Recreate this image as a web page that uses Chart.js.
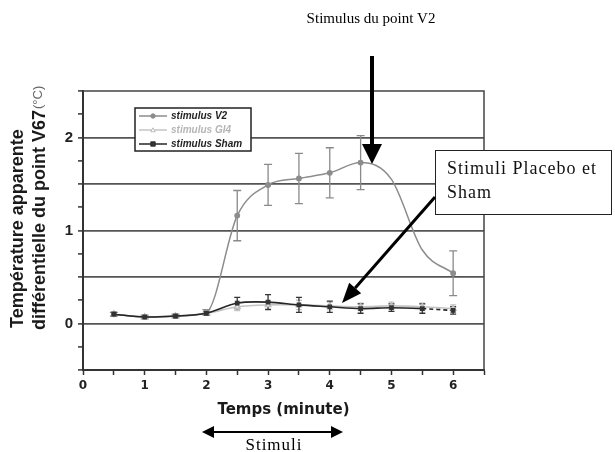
<!DOCTYPE html>
<html lang="fr">
<head>
<meta charset="utf-8">
<title>Température apparente différentielle du point V67</title>
<script src="https://cdn.jsdelivr.net/npm/chart.js@4.4.1/dist/chart.umd.min.js"></script>
<style>
  html, body { margin: 0; padding: 0; background: #fff; }
  #chart { display: block; }
</style>
</head>
<body>
<canvas id="chart" width="615" height="452"></canvas>
<script>
// temps (minute)
const timeMinutes = [0.5, 1, 1.5, 2, 2.5, 3, 3.5, 4, 4.5, 5, 5.5, 6];

// stimulus V2 -- null error = curve point only, no marker
const v2Values = [0.10, 0.07, 0.08, 0.12, 1.16, 1.49, 1.56, 1.62, 1.73, 1.55, 0.79, 0.54];
const v2Errors = [0.02, 0.02, 0.02, 0.03, 0.27, 0.22, 0.27, 0.27, 0.29, null, null, 0.24];

// stimulus GI4
const gi4Values = [0.10, 0.07, 0.08, 0.11, 0.18, 0.20, 0.20, 0.19, 0.18, 0.19, 0.18, 0.16];
const gi4Errors = [0.02, 0.02, 0.02, 0.02, 0.04, 0.04, 0.05, 0.04, 0.04, 0.04, 0.04, 0.04];

// stimulus Sham
const shamValues = [0.10, 0.07, 0.08, 0.11, 0.22, 0.23, 0.20, 0.18, 0.16, 0.17, 0.16, 0.14];
const shamErrors = [0.02, 0.01, 0.01, 0.02, 0.06, 0.08, 0.08, 0.06, 0.05, 0.04, 0.05, 0.04];

const seriesNames = ['stimulus V2', 'stimulus GI4', 'stimulus Sham'];
const xTickLabels = [0, 1, 2, 3, 4, 5, 6];
const yTickLabels = [0, 1, 2];

const toPoints = (vals) => vals.map((v, i) => ({ x: timeMinutes[i], y: v }));

const errorBars = {
  id: 'errorBars',
  beforeDatasetsDraw(chart) {
    const { ctx, scales: { x, y } } = chart;
    chart.data.datasets.forEach((ds) => {
      if (!ds.errors) return;
      ctx.save();
      ctx.strokeStyle = ds.errorColor;
      ctx.lineWidth = 1.3;
      ds.data.forEach((p, j) => {
        const e = ds.errors[j];
        if (e == null) return;
        const px = x.getPixelForValue(p.x);
        const top = y.getPixelForValue(p.y + e);
        const bot = y.getPixelForValue(p.y - e);
        const cap = ds.errorCap;
        ctx.beginPath();
        ctx.moveTo(px, top); ctx.lineTo(px, bot);
        ctx.moveTo(px - cap, top); ctx.lineTo(px + cap, top);
        ctx.moveTo(px - cap, bot); ctx.lineTo(px + cap, bot);
        ctx.stroke();
      });
      ctx.restore();
    });
  }
};

function arrow(ctx, x1, y1, x2, y2, len, half, width) {
  const a = Math.atan2(y2 - y1, x2 - x1);
  const bx = x2 - len * Math.cos(a), by = y2 - len * Math.sin(a);
  ctx.lineWidth = width;
  ctx.beginPath();
  ctx.moveTo(x1, y1);
  ctx.lineTo(bx, by);
  ctx.stroke();
  ctx.beginPath();
  ctx.moveTo(x2, y2);
  ctx.lineTo(bx + half * Math.sin(a), by - half * Math.cos(a));
  ctx.lineTo(bx - half * Math.sin(a), by + half * Math.cos(a));
  ctx.closePath();
  ctx.fill();
}

function marker(ctx, style, x, y, r, fill, stroke) {
  ctx.fillStyle = fill;
  ctx.strokeStyle = stroke;
  ctx.lineWidth = 1;
  ctx.beginPath();
  if (style === 'rect') ctx.rect(x - r, y - r, 2 * r, 2 * r);
  else if (style === 'triangle') { ctx.moveTo(x, y - r); ctx.lineTo(x + r, y + r * 0.8); ctx.lineTo(x - r, y + r * 0.8); ctx.closePath(); }
  else ctx.arc(x, y, r, 0, Math.PI * 2);
  ctx.fill();
  ctx.stroke();
}

const annotations = {
  id: 'annotations',
  afterDraw(chart) {
    const { ctx, chartArea: a } = chart;
    ctx.save();

    // top and right frame
    ctx.strokeStyle = '#444';
    ctx.lineWidth = 1.5;
    ctx.beginPath();
    ctx.moveTo(a.left, a.top); ctx.lineTo(a.right, a.top); ctx.lineTo(a.right, a.bottom);
    ctx.stroke();

    // legend
    ctx.fillStyle = '#fff';
    ctx.fillRect(135, 108, 116, 43);
    ctx.strokeStyle = '#222';
    ctx.lineWidth = 1.5;
    ctx.strokeRect(135, 108, 116, 43);
    ctx.font = 'italic bold 10px "Liberation Sans", Arial, sans-serif';
    ctx.textBaseline = 'middle';
    ctx.textAlign = 'left';
    [0, 1, 2].forEach((i) => {
      const ds = chart.data.datasets[i];
      const ly = 116 + i * 14;
      ctx.strokeStyle = ds.borderColor;
      ctx.lineWidth = 1.5;
      ctx.beginPath(); ctx.moveTo(139, ly); ctx.lineTo(167, ly); ctx.stroke();
      marker(ctx, ds.pointStyle, 153, ly, 2.2, ds.pointBackgroundColor, ds.pointBorderColor);
      ctx.fillStyle = i === 1 ? '#b5b5b5' : '#222';
      ctx.fillText(seriesNames[i], 171, ly + 0.5);
    });

    // y axis title
    ctx.fillStyle = '#1a1a1a';
    ctx.textBaseline = 'middle';
    ctx.textAlign = 'left';
    ctx.save();
    ctx.translate(18, 328);
    ctx.rotate(-Math.PI / 2);
    ctx.font = 'bold 18px "Liberation Sans", Arial, sans-serif';
    ctx.fillText('Température apparente', 0, 0);
    ctx.restore();
    ctx.save();
    ctx.translate(40, 330);
    ctx.rotate(-Math.PI / 2);
    ctx.font = 'bold 18px "Liberation Sans", Arial, sans-serif';
    const part = 'différentielle du point V67';
    ctx.fillText(part, 0, 0);
    const w = ctx.measureText(part).width;
    ctx.font = '13px "Liberation Sans", Arial, sans-serif';
    ctx.fillStyle = '#666';
    ctx.fillText('(°C)', w + 1, -2);
    ctx.restore();

    // x axis title
    ctx.fillStyle = '#1a1a1a';
    ctx.textAlign = 'center';
    ctx.font = 'bold 15px "DejaVu Sans", sans-serif';
    ctx.fillText('Temps (minute)', (a.left + a.right) / 2, 410);

    // Stimuli span arrow
    ctx.fillStyle = '#000';
    ctx.strokeStyle = '#000';
    arrow(ctx, 272, 432, 202, 432, 12, 6, 2);
    arrow(ctx, 272, 432, 343, 432, 12, 6, 2);
    ctx.font = '17px "Liberation Serif", "Times New Roman", serif';
    ctx.letterSpacing = '1px';
    ctx.textBaseline = 'alphabetic';
    ctx.fillText('Stimuli', 274, 450);

    // V2 annotation
    ctx.font = '15px "Liberation Serif", "Times New Roman", serif';
    ctx.letterSpacing = '0px';
    ctx.fillText('Stimulus du point V2', 371, 23);
    arrow(ctx, 372, 56, 372, 164, 20, 10, 4);

    // Placebo / Sham box
    ctx.fillStyle = '#fff';
    ctx.fillRect(435, 150, 177, 65);
    ctx.strokeStyle = '#222';
    ctx.lineWidth = 1;
    ctx.strokeRect(435.5, 150.5, 176, 64);
    ctx.fillStyle = '#111';
    ctx.textAlign = 'left';
    ctx.font = '18px "Liberation Serif", "Times New Roman", serif';
    ctx.letterSpacing = '1px';
    ctx.fillText('Stimuli Placebo et', 447, 174);
    ctx.fillText('Sham', 447, 198);
    ctx.letterSpacing = '0px';
    ctx.fillStyle = '#000';
    ctx.strokeStyle = '#000';
    arrow(ctx, 435, 197, 342, 303, 20, 8, 3);

    ctx.restore();
  }
};

new Chart(document.getElementById('chart'), {
  type: 'line',
  data: {
    datasets: [
      {
        label: seriesNames[0],
        data: toPoints(v2Values),
        errors: v2Errors,
        errorColor: '#8a8a8a',
        errorCap: 4,
        borderColor: '#8c8c8c',
        borderWidth: 1.5,
        cubicInterpolationMode: 'monotone',
        pointStyle: 'circle',
        pointRadius: (ctx) => v2Errors[ctx.dataIndex] == null ? 0 : 2.2,
        pointBackgroundColor: '#8c8c8c',
        pointBorderColor: '#8c8c8c',
        order: 1
      },
      {
        label: seriesNames[1],
        data: toPoints(gi4Values),
        errors: gi4Errors,
        errorColor: '#c4c4c4',
        errorCap: 3,
        borderColor: '#c4c4c4',
        borderWidth: 1.6,
        tension: 0.3,
        pointStyle: 'triangle',
        pointRadius: 3,
        pointBackgroundColor: '#fff',
        pointBorderColor: '#bdbdbd',
        order: 2
      },
      {
        label: seriesNames[2],
        data: toPoints(shamValues),
        errors: shamErrors,
        errorColor: '#333',
        errorCap: 3,
        borderColor: '#262626',
        borderWidth: 1.6,
        tension: 0.3,
        segment: {
          borderDash: (ctx) => ctx.p0.parsed.x >= 5.5 ? [4, 3] : undefined
        },
        pointStyle: 'rect',
        pointRadius: 2.2,
        pointBackgroundColor: '#333',
        pointBorderColor: '#333',
        order: 0
      }
    ]
  },
  options: {
    responsive: false,
    animation: false,
    layout: { padding: { top: 91, right: 131, left: 0, bottom: 0 } },
    plugins: {
      legend: { display: false },
      tooltip: { enabled: false }
    },
    scales: {
      x: {
        type: 'linear',
        min: 0,
        max: 6.5,
        afterFit: (scale) => { scale.height = 82; },
        ticks: {
          stepSize: 0.5,
          autoSkip: false,
          maxRotation: 0,
          padding: 4,
          color: '#222',
          font: { family: '"DejaVu Sans", sans-serif', weight: 'bold', size: 12 },
          callback: (v) => xTickLabels.includes(v) ? String(v) : ''
        },
        grid: { drawOnChartArea: false, tickLength: 5, tickColor: '#333', tickWidth: 1.5 },
        border: { color: '#333', width: 2 }
      },
      y: {
        min: -0.5,
        max: 2.5,
        afterFit: (scale) => { scale.width = 83; },
        ticks: {
          stepSize: 0.25,
          autoSkip: false,
          padding: 5,
          color: '#222',
          font: { family: '"Liberation Sans", Arial, sans-serif', weight: 'bold', size: 15 },
          callback: (v) => yTickLabels.includes(v) ? String(v) : ''
        },
        grid: {
          color: (ctx) => {
            const v = ctx.tick && ctx.tick.value;
            return (v > -0.5 && v < 2.5 && Math.abs(v * 2 - Math.round(v * 2)) < 1e-9) ? '#555' : 'rgba(0,0,0,0)';
          },
          lineWidth: 1.8,
          tickLength: 5,
          tickColor: '#333',
          tickWidth: 1.5
        },
        border: { color: '#333', width: 2 }
      }
    }
  },
  plugins: [errorBars, annotations]
});
</script>
</body>
</html>
